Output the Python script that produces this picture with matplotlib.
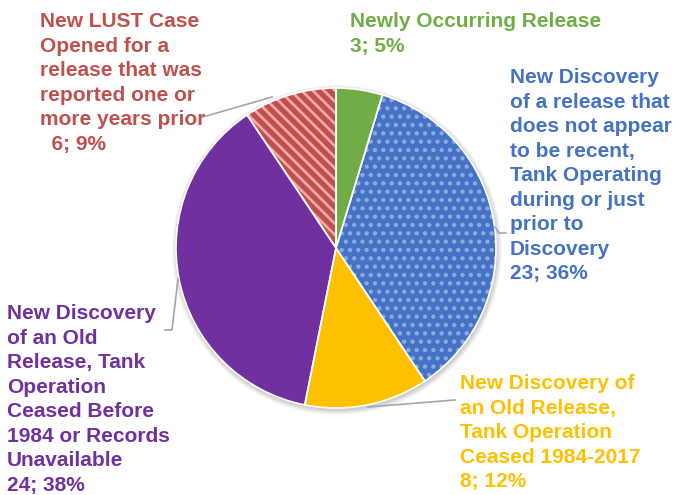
import matplotlib.pyplot as plt
from matplotlib.patches import Circle

plt.rcParams['font.family'] = ['Liberation Sans', 'DejaVu Sans']
plt.rcParams['hatch.linewidth'] = 1.9

# categories, counts and colours (clockwise from 12 o'clock)
labels = [
    "Newly Occurring Release",
    "New Discovery\nof a release that\ndoes not appear\nto be recent,\nTank Operating\nduring or just\nprior to\nDiscovery",
    "New Discovery of\nan Old Release,\nTank Operation\nCeased 1984-2017",
    "New Discovery\nof an Old\nRelease, Tank\nOperation\nCeased Before\n1984 or Records\nUnavailable",
    "New LUST Case\nOpened for a\nrelease that was\nreported one or\nmore years prior",
]
counts = [3, 23, 8, 24, 6]
percents = [5, 36, 12, 38, 9]
value_prefix = ['', '', '', '', '  ']
colors = ['#70AD47', '#4472C4', '#FFC000', '#7030A0', '#C0504D']
hatches = [None, '..', None, None, '\\\\\\']
hatch_colors = [None, '#8FAADF', None, None, '#F2ABA9']

W, H = 679, 495
fig = plt.figure(figsize=(W / 100, H / 100), dpi=100)

# pie placed by pixels: centre (336, 248) from top, radius 160
cx, cy, r = 336, 248, 160
ax = fig.add_axes([(cx - r * 1.05) / W, (H - cy - r * 1.05) / H,
                   2.1 * r / W, 2.1 * r / H])

# soft shadow
for k in range(6):
    ax.add_patch(Circle((0.006, -0.012), 1.0 + 0.006 * k, color='#000000',
                        alpha=0.035, lw=0, zorder=0))

wedges, _ = ax.pie(counts, colors=colors, startangle=90, counterclock=False,
                   wedgeprops=dict(linewidth=0))
for w, h, hc in zip(wedges, hatches, hatch_colors):
    w.set_zorder(2)
    if h:
        w.set_hatch(h)
        w.set_edgecolor(hc)
        w.set_linewidth(0)
# white separators on top
borders, _ = ax.pie(counts, startangle=90, counterclock=False,
                    wedgeprops=dict(fill=False, edgecolor='white', linewidth=1.2))
for b in borders:
    b.set_zorder(3)
ax.set_xlim(-1.05, 1.05)
ax.set_ylim(-1.05, 1.05)
ax.axis('off')

# overlay in pixel coordinates for labels and leader lines
ov = fig.add_axes([0, 0, 1, 1], zorder=5)
ov.set_xlim(0, W)
ov.set_ylim(H, 0)
ov.axis('off')

label_pos = [(350, 12), (510, 68), (460, 374), (7, 304), (40, 12)]
leaders = [
    None,
    [(495, 227), (499, 233), (506, 233)],
    [(368, 407), (455, 400)],
    [(178, 279), (172, 330), (165, 330)],
    [(272, 97), (203, 117)],
]
for lab, n, p, pre, c, (x, y), ld in zip(labels, counts, percents, value_prefix,
                                        colors, label_pos, leaders):
    txt = f"{lab}\n{pre}{n}; {p}%"
    ov.text(x, y, txt, color=c, fontsize=15, fontweight='bold',
            ha='left', va='top', linespacing=1.37)
    if ld:
        xs, ys = zip(*ld)
        ov.plot(xs, ys, color='#A6A6A6', lw=1.2)

fig.savefig('out.png', dpi=100)
